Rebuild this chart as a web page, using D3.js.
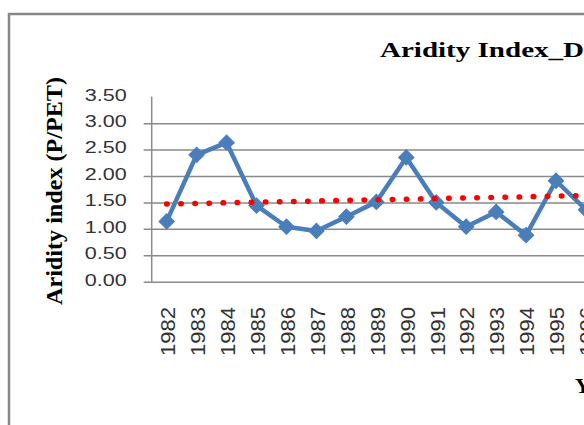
<!DOCTYPE html>
<html>
<head>
<meta charset="utf-8">
<script src="https://cdn.jsdelivr.net/npm/d3@7"></script>
<style>
  html, body { margin: 0; padding: 0; background: #fff; overflow: hidden; }
</style>
</head>
<body>
<div id="chart"></div>
<script>
// chart data
let years = ["1982", "1983", "1984", "1985", "1986", "1987", "1988", "1989",
             "1990", "1991", "1992", "1993", "1994", "1995", "1996"];
let aridity = [1.14, 2.40, 2.63, 1.44, 1.04, 0.96, 1.23, 1.51,
               2.35, 1.50, 1.04, 1.32, 0.88, 1.91, 1.36];
// linear trend end points (first and last visible year)
let trend_years = ["1982", "1996"];
let trend_values = [1.47, 1.63];
let y_ticks = [0, 0.5, 1, 1.5, 2, 2.5, 3, 3.5];

let width = 584, height = 425;
let margin = {left: 151.7, top: 96.7, bottom: 143.3};
let step = 29.95;

let svg = d3.select("#chart")
    .append("svg")
    .attr("width", width)
    .attr("height", height)
    .style("font-family", "DejaVu Sans, sans-serif");

// outer chart border (runs off the right and bottom of the crop)
svg.append("rect")
    .attr("x", 9).attr("y", 14)
    .attr("width", 700).attr("height", 500)
    .attr("fill", "none")
    .attr("stroke", "#878787")
    .attr("stroke-width", 2.5);

let x = d3.scaleBand()
    .domain(years)
    .range([0, step * years.length]);

let y = d3.scaleLinear()
    .domain([0, 3.5])
    .range([height - margin.bottom - margin.top, 0]);

let plot_w = step * years.length + 40;

let g = svg.append("g")
    .attr("transform", `translate(${margin.left},${margin.top})`);

// y axis with gridlines
let y_axis = g.append("g")
    .call(d3.axisLeft(y).tickValues(y_ticks).tickSizeInner(-plot_w).tickSizeOuter(0)
        .tickPadding(25).tickFormat(d3.format(".2f")));
y_axis.select(".domain").remove();
y_axis.selectAll(".tick line")
    .attr("x1", -8)
    .attr("stroke", "#8a8a8a")
    .attr("stroke-width", 1.5)
    .style("display", d => d == 3.5 ? "none" : null);
y_axis.selectAll(".tick text")
    .attr("font-size", 16.5)
    .attr("fill", "#333")
    .attr("dy", "0.2em")
    .attr("textLength", 42)
    .attr("lengthAdjust", "spacingAndGlyphs");

// vertical axis line
g.append("line")
    .attr("x1", 0).attr("x2", 0)
    .attr("y1", y(3.5)).attr("y2", y(0))
    .attr("stroke", "#8a8a8a")
    .attr("stroke-width", 1.5);

// x axis labels, rotated
let x_axis = g.append("g")
    .attr("transform", `translate(0,${y(0)})`)
    .call(d3.axisBottom(x).tickSize(0));
x_axis.select(".domain").remove();
x_axis.selectAll(".tick text")
    .attr("transform", "rotate(-90)")
    .attr("text-anchor", "end")
    .attr("x", -25.3)
    .attr("y", 8.3)
    .attr("dy", 0)
    .attr("font-size", 20)
    .attr("fill", "#333")
    .attr("textLength", 49)
    .attr("lengthAdjust", "spacingAndGlyphs");

let cx = d => x(d) + x.bandwidth() / 2;

// series line
g.append("path")
    .datum(aridity)
    .attr("fill", "none")
    .attr("stroke", "#4a7ebb")
    .attr("stroke-width", 4.5)
    .attr("stroke-linejoin", "round")
    .attr("d", d3.line().x((d, i) => cx(years[i])).y(d => y(d)));

// diamond markers
g.selectAll(".marker")
    .data(aridity)
    .join("path")
    .attr("class", "marker")
    .attr("d", d3.symbol(d3.symbolSquare, 118))
    .attr("transform", (d, i) => `translate(${cx(years[i])},${y(d)}) rotate(45)`)
    .attr("fill", "#4a7ebb")
    .attr("stroke", "#4a7ebb")
    .attr("stroke-width", 1);

// linear trend, red dotted
g.append("path")
    .datum(trend_values)
    .attr("fill", "none")
    .attr("stroke", "#ff0000")
    .attr("stroke-width", 5.5)
    .attr("stroke-linecap", "round")
    .attr("stroke-dasharray", "0.5 13.6")
    .attr("d", d3.line().x((d, i) => cx(trend_years[i])).y(d => y(d)));

// titles
svg.append("text")
    .attr("x", 380).attr("y", 56.7)
    .attr("font-family", "Liberation Serif, Times New Roman, serif")
    .attr("font-weight", "bold")
    .attr("font-size", 22)
    .attr("textLength", 204)
    .attr("lengthAdjust", "spacingAndGlyphs")
    .text("Aridity Index_D");

svg.append("text")
    .attr("transform", "translate(62,191) rotate(-90)")
    .attr("text-anchor", "middle")
    .attr("font-family", "Liberation Serif, Times New Roman, serif")
    .attr("font-weight", "bold")
    .attr("font-size", 23)
    .attr("textLength", 228)
    .attr("lengthAdjust", "spacingAndGlyphs")
    .text("Aridity index (P/PET)");

svg.append("text")
    .attr("x", 575).attr("y", 393)
    .attr("font-family", "Liberation Serif, Times New Roman, serif")
    .attr("font-weight", "bold")
    .attr("font-size", 22)
    .text("Year");
</script>
</body>
</html>
